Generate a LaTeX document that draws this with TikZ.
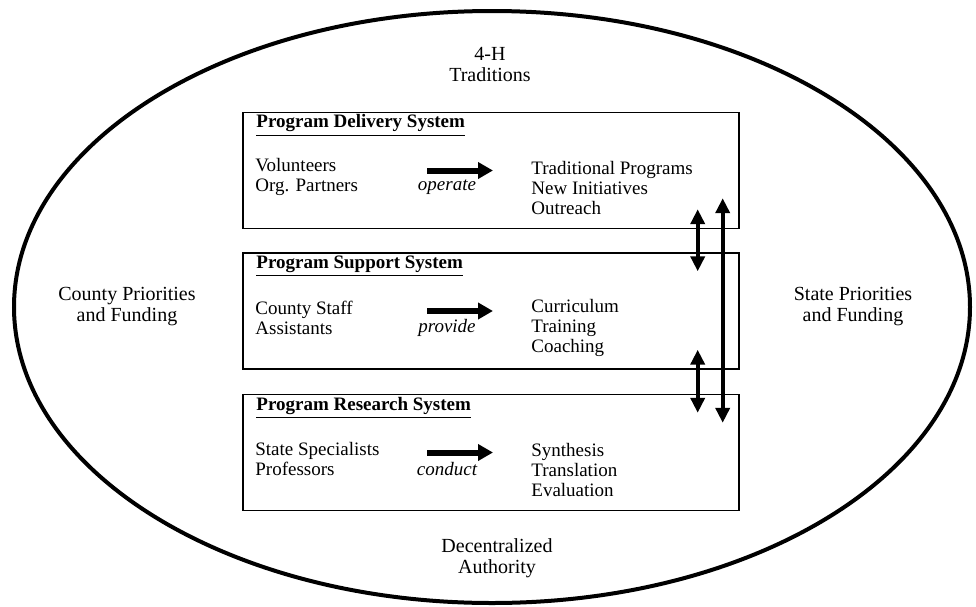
\documentclass[tikz,border=0pt]{standalone}
\usepackage{fontspec}
\setmainfont{Liberation Serif}
\usetikzlibrary{arrows.meta,positioning}

\tikzset{
  sysbox/.style={draw,line width=0.7pt,minimum width=248pt,minimum height=58pt,inner sep=0pt},
  systitle/.style={anchor=west,inner sep=0pt,font=\fontsize{9.5}{10}\selectfont\bfseries},
  items/.style={anchor=west,inner sep=0pt,align=left,font=\fontsize{9.5}{10}\selectfont},
  verbtxt/.style={inner sep=0pt,font=\fontsize{9.5}{10}\selectfont\itshape},
  outer/.style={align=center,inner sep=0pt,font=\fontsize{10}{10.5}\selectfont},
  flowarrow/.style={line width=3pt,-{Triangle[length=7.5pt,width=8pt]}},
  linkarrow/.style={line width=2pt,{Triangle[length=7.5pt,width=7pt]}-{Triangle[length=7.5pt,width=7pt]}}
}

\begin{document}
\begin{tikzpicture}[x=0.5pt,y=-0.5pt]
    \useasboundingbox (0,0) rectangle (976,606);
    \draw[line width=2pt] (492,307) ellipse [x radius=239pt, y radius=148pt];

    % the three systems
    \foreach \sys/\t/\ttl/\lft/\vrb/\rgt in {
        del/112.5/{Program Delivery System}/{Volunteers\\Org. Partners}/operate/{Traditional Programs\\New Initiatives\\Outreach},
        sup/253/{Program Support System}/{County Staff\\Assistants}/provide/{Curriculum\\Training\\Coaching},
        res/394.5/{Program Research System}/{State Specialists\\Professors}/conduct/{Synthesis\\Translation\\Evaluation}}{
        \node[sysbox] (\sys-box) at (491,{\t+58}) {};
        \node[systitle] (\sys-title) at (256,{\t+13}) {\underline{\ttl}};
        \node[items] (\sys-who) at (255,{\t+64.5}) {\lft};
        \node[verbtxt] (\sys-verb) at (447,{\t+75}) {\vrb};
        \node[items] (\sys-what) at (531,{\t+75}) {\rgt};
        \coordinate (\sys-from) at (427,{\t+58});
        \coordinate (\sys-to) at (493,{\t+58});
        \draw[flowarrow] (\sys-from) -- (\sys-to);
    }

    \draw[linkarrow] ([shift={(-21pt,10pt)}]del-box.south east) -- ([shift={(-21pt,-9.5pt)}]sup-box.north east);
    \draw[linkarrow] ([shift={(-21pt,10pt)}]sup-box.south east) -- ([shift={(-21pt,-9.5pt)}]res-box.north east);
    \draw[linkarrow] ([shift={(-8.5pt,15.5pt)}]del-box.south east) -- ([shift={(-8.5pt,-14.5pt)}]res-box.north east);

    \node[outer] (traditions) at (490,65) {4-H\\Traditions};
    \node[outer] (authority) at (497,558.5) {Decentralized\\Authority};
    \node[outer] (county) at (127,307) {County Priorities\\and Funding};
    \node[outer] (state) at (853,307) {State Priorities\\and Funding};
\end{tikzpicture}
\end{document}
